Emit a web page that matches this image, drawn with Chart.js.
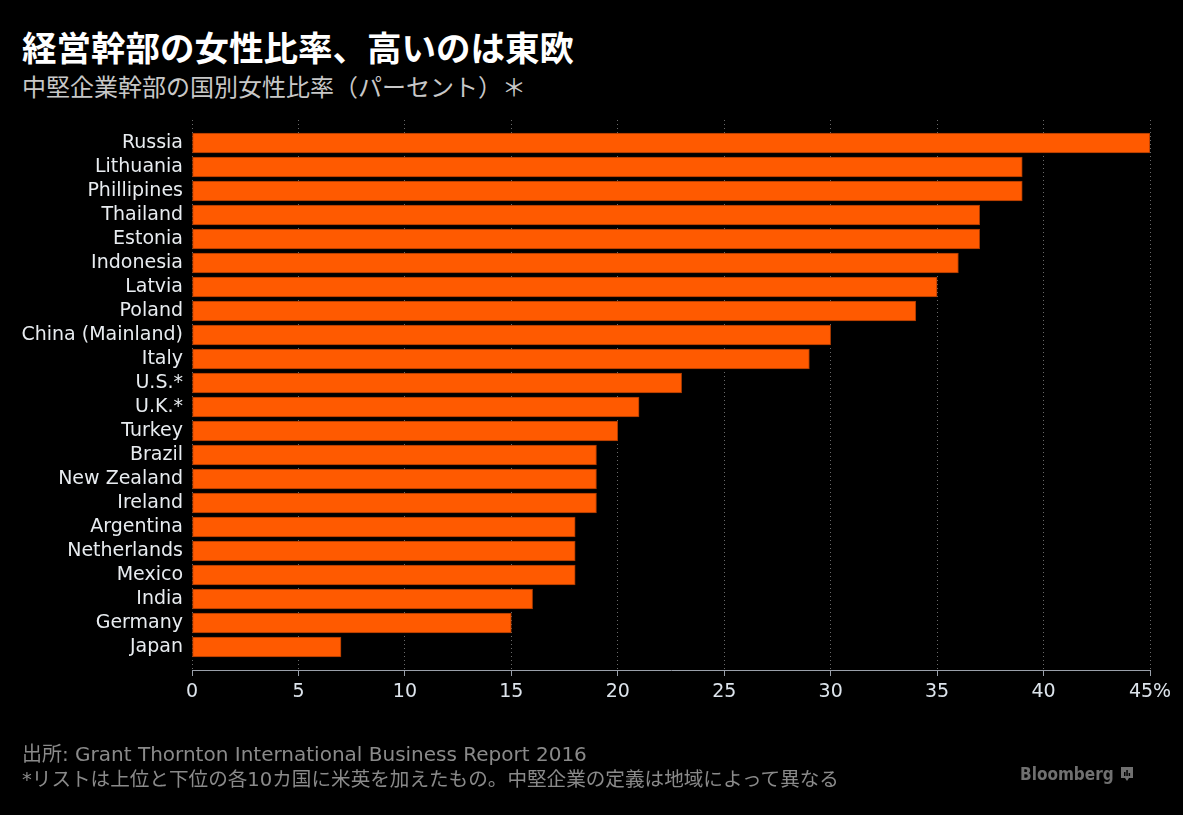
<!DOCTYPE html>
<html lang="ja">
<head>
<meta charset="utf-8">
<title>経営幹部の女性比率、高いのは東欧</title>
<script src="https://cdn.jsdelivr.net/npm/chart.js@4.4.1/dist/chart.umd.min.js"></script>
<style>
  html, body { margin: 0; padding: 0; background: #000; }
  body { width: 1183px; height: 815px; position: relative; overflow: hidden; }
  canvas { position: absolute; left: 0; top: 0; }
  .txt { position: absolute; left: 22px; white-space: nowrap; line-height: 1; }
  #title { top: 21px; font: bold 34.5px "Noto Sans CJK JP", sans-serif; color: #fff; }
  #subtitle { top: 68px; font: 24px "Noto Sans CJK JP", sans-serif; color: #c8c8c8; }
  #source { top: 738px; font: 20px "DejaVu Sans", "Noto Sans CJK JP", sans-serif; color: #8a8a8a; }
  #note { top: 763px; font: 19.6px "DejaVu Sans", "Noto Sans CJK JP", sans-serif; color: #8a8a8a; }
  #logo { position: absolute; left: 1020px; top: 764px; font: bold 17px "DejaVu Sans Condensed", sans-serif;
          color: #707070; line-height: 20px; display: flex; align-items: center; gap: 6px; }
</style>
</head>
<body>
<div id="title" class="txt">経営幹部の女性比率、高いのは東欧</div>
<div id="subtitle" class="txt">中堅企業幹部の国別女性比率（パーセント）＊</div>
<canvas id="chart" width="1183" height="815"></canvas>
<div id="source" class="txt">出所: Grant Thornton International Business Report 2016</div>
<div id="note" class="txt">*リストは上位と下位の各10カ国に米英を加えたもの。中堅企業の定義は地域によって異なる</div>
<div id="logo">Bloomberg
  <svg width="14" height="16" viewBox="0 0 14 16">
    <path d="M1 1h12v11H9l-2 3-2-3H1z" fill="#707070"/>
    <rect x="4" y="6" width="1.5" height="4" fill="#000"/>
    <rect x="6.3" y="4" width="1.5" height="6" fill="#000"/>
    <rect x="8.6" y="7" width="1.5" height="3" fill="#000"/>
  </svg>
</div>
<script>
// データ
const countries = [
  "Russia", "Lithuania", "Phillipines", "Thailand", "Estonia", "Indonesia",
  "Latvia", "Poland", "China (Mainland)", "Italy", "U.S.*", "U.K.*",
  "Turkey", "Brazil", "New Zealand", "Ireland", "Argentina", "Netherlands",
  "Mexico", "India", "Germany", "Japan"
];
const womenShare = [45, 39, 39, 37, 37, 36, 35, 34, 30, 29, 23, 21, 20, 19, 19, 19, 18, 18, 18, 16, 15, 7];
const xTicks = [0, 5, 10, 15, 20, 25, 30, 35, 40, 45];

const ctx = document.getElementById("chart").getContext("2d");
new Chart(ctx, {
  type: "bar",
  data: {
    datasets: [{
      data: womenShare.map((v, i) => ({ x: v, y: i })),
      backgroundColor: "#ff5a00",
      borderColor: "#a33800",
      borderWidth: 1,
      borderSkipped: false,
      barThickness: 20,
    }],
  },
  options: {
    indexAxis: "y",
    responsive: false,
    animation: false,
    layout: { padding: { top: 120, right: 33, bottom: 105, left: 0 } },
    plugins: { legend: { display: false }, tooltip: { enabled: false } },
    scales: {
      x: {
        type: "linear",
        min: 0,
        max: 45,
        afterBuildTicks: (s) => { s.ticks = xTicks.map((v) => ({ value: v })); },
        afterFit: (s) => { s.height = 40; },
        ticks: {
          color: "#dde4ec",
          font: { family: "DejaVu Sans", size: 19 },
          padding: 5,
          maxRotation: 0,
          callback: (v) => (v === 45 ? "45%" : String(v)),
        },
        grid: {
          color: "#6a6a6a",
          tickColor: "#9aa0aa",
          tickLength: 6,
          tickBorderDash: [],
        },
        border: { display: true, color: "#9aa0aa", width: 1, dash: [1, 3] },
      },
      y: {
        type: "linear",
        offset: false,
        reverse: true,
        min: -23 / 24,
        max: 21 + 23 / 24,
        afterBuildTicks: (s) => { s.ticks = countries.map((_, i) => ({ value: i })); },
        afterFit: (s) => { s.width = 192; },
        ticks: {
          autoSkip: false,
          color: "#e8ecf0",
          font: { family: "DejaVu Sans", size: 19 },
          padding: 9,
          callback: (v) => countries[v],
        },
        grid: { display: false, drawTicks: false },
        border: { display: false },
      },
    },
  },
});
</script>
</body>
</html>
